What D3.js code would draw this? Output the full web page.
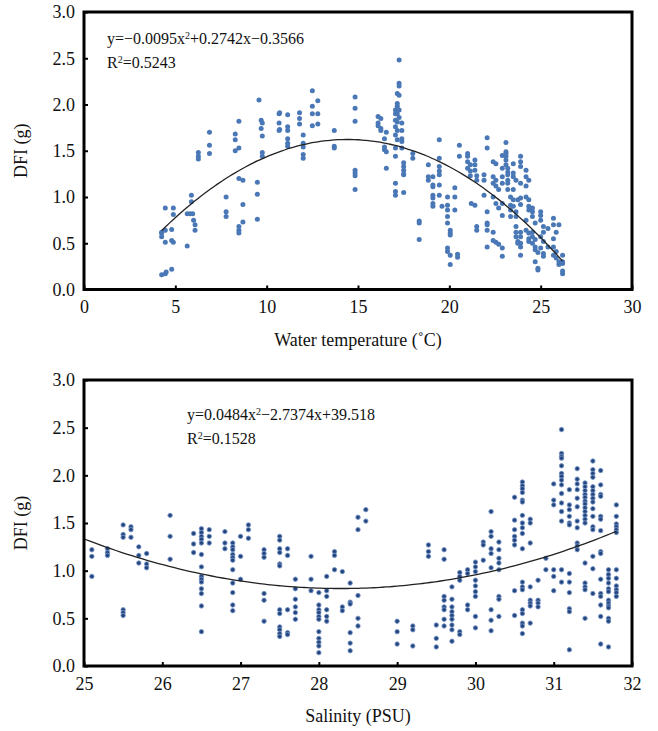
<!DOCTYPE html>
<html lang="en">
<head>
    <meta charset="UTF-8">
    <script src="https://d3js.org/d3.v7.min.js"></script>
    <title>DFI vs water temperature and salinity</title>
    <style>
        body { margin: 0; background: #fff; }
    </style>
</head>
<body>
<div id="chart"></div>
<script>
    const serif = '"Liberation Serif", "Times New Roman", "DejaVu Serif", serif';

    // Water temperature (°C) columns: [x, [DFI values]]
    const tempColumns = [
        [4.25, [0.61, 0.57, 0.62, 0.16]],
        [4.45, [0.88, 0.64, 0.51, 0.17]],
        [4.5, [0.19]],
        [4.8, [0.65, 0.53, 0.22]],
        [4.89, [0.88, 0.81, 0.51]],
        [5.65, [0.47, 0.82]],
        [5.8, [0.82]],
        [5.88, [1.02, 0.95]],
        [5.95, [0.82]],
        [6.0, [0.75]],
        [6.08, [0.70, 0.64]],
        [6.26, [1.48, 1.44, 1.41]],
        [6.87, [1.70, 1.56, 1.47]],
        [7.78, [1.0, 0.84, 0.79]],
        [8.28, [1.68, 1.62, 1.50]],
        [8.48, [1.82, 1.53, 1.20, 0.68, 0.64, 0.61]],
        [8.7, [1.18, 0.92, 0.73]],
        [9.49, [1.16, 1.03, 0.76]],
        [9.58, [2.05]],
        [9.7, [1.83, 1.74]],
        [9.76, [1.80, 1.66, 1.48, 1.44]],
        [10.68, [1.90, 1.80, 1.72]],
        [10.71, [1.91, 1.73]],
        [11.15, [1.89, 1.76, 1.72, 1.63, 1.58, 1.55]],
        [11.8, [1.91, 1.85, 1.79]],
        [12.0, [1.67, 1.58, 1.54, 1.46, 1.42]],
        [12.5, [2.15, 1.98, 1.90, 1.77]],
        [12.8, [2.04, 1.90, 1.79]],
        [13.7, [1.72, 1.55, 1.53]],
        [14.84, [2.08, 1.96, 1.82, 1.29, 1.26, 1.23, 1.08]],
        [16.1, [1.87, 1.80, 1.77]],
        [16.25, [1.85, 1.74, 1.72]],
        [16.45, [1.63, 1.54, 1.51]],
        [16.55, [1.70, 1.49, 1.31]],
        [17.05, [1.94, 1.90, 1.83, 1.76, 1.67, 1.53, 1.44, 1.15, 1.06, 1.02]],
        [17.15, [2.12, 2.01, 1.98, 1.90, 1.81, 1.72, 1.62]],
        [17.25, [2.48, 2.23, 2.20, 2.10, 1.94, 1.86]],
        [17.4, [1.80, 1.72, 1.63, 1.60, 1.53]],
        [17.5, [1.37, 1.33, 1.29, 1.25, 1.24, 1.05]],
        [18.0, [1.47, 1.42]],
        [18.35, [0.74, 0.72, 0.54]],
        [18.85, [1.35, 1.22, 1.18]],
        [19.1, [1.22, 1.13, 1.11, 1.02, 0.99, 0.93, 0.90]],
        [19.45, [1.62, 1.42, 1.33, 1.28, 1.24, 1.13, 1.02]],
        [19.6, [0.90]],
        [19.9, [1.0, 0.91, 0.86, 0.79, 0.72, 0.45, 0.41]],
        [20.05, [0.64, 0.61, 0.59, 0.37, 0.27]],
        [20.3, [1.10, 1.0, 0.86]],
        [20.45, [0.38, 0.35]],
        [20.55, [1.56, 1.44]],
        [21.0, [1.47, 1.44, 1.38, 1.31]],
        [21.15, [1.35, 1.28, 1.23]],
        [21.2, [0.93]],
        [21.4, [1.40, 1.35, 1.29, 0.91]],
        [21.5, [1.23, 1.18, 0.68, 0.64]],
        [21.9, [1.24, 1.18, 1.02]],
        [22.07, [1.64, 1.53, 0.84, 0.72, 0.70, 0.64, 0.46]],
        [22.4, [1.38, 1.22, 1.15, 1.0, 0.62, 0.53]],
        [22.55, [1.36, 1.18, 1.12, 0.93, 0.51]],
        [22.7, [1.08, 0.88, 0.49]],
        [22.9, [1.45, 1.31, 1.22, 1.15, 0.93, 0.80, 0.45, 0.36]],
        [23.1, [1.59, 1.49, 1.47, 1.44, 1.40, 1.35]],
        [23.2, [1.31, 1.27, 1.24, 1.18, 1.15, 1.08]],
        [23.35, [1.0, 0.91, 0.86, 0.79]],
        [23.5, [1.36, 1.26, 1.22, 1.08, 0.97, 0.90]],
        [23.65, [1.18, 0.84, 0.79, 0.68, 0.62, 0.57]],
        [23.75, [0.52, 0.50, 0.97]],
        [23.9, [1.44, 1.38, 1.33, 1.15, 0.99, 0.92, 0.62, 0.57, 0.50, 0.46, 0.37]],
        [24.2, [1.29, 1.22, 1.12, 1.0, 0.75, 0.64]],
        [24.35, [1.18, 0.97, 0.90, 0.86, 0.61, 0.55, 0.52]],
        [24.55, [0.88, 0.84, 0.79, 0.62, 0.57, 0.50]],
        [24.7, [0.72, 0.54, 0.46, 0.43, 0.30]],
        [24.85, [0.40, 0.23, 0.21]],
        [25.0, [0.84, 0.80, 0.75, 0.57, 0.45]],
        [25.15, [0.68, 0.62, 0.52, 0.39, 0.36]],
        [25.4, [0.66, 0.46]],
        [25.7, [0.77, 0.70, 0.55, 0.46, 0.37]],
        [25.85, [0.62, 0.41, 0.34]],
        [26.0, [0.70, 0.30, 0.27]],
        [26.2, [0.37, 0.30, 0.28, 0.20, 0.17]]
    ];

    // Salinity (PSU) columns: [x, [DFI values]]
    const salColumns = [
        [25.1, [1.22, 1.15, 0.94]],
        [25.3, [1.23, 1.19, 1.16]],
        [25.5, [1.48, 1.38, 1.35, 0.59, 0.56, 0.53]],
        [25.6, [1.46, 1.43, 1.35]],
        [25.7, [1.25, 1.16, 1.08]],
        [25.8, [1.18, 1.07, 1.03]],
        [26.1, [1.58, 1.36, 1.12]],
        [26.4, [1.39, 1.28, 1.19]],
        [26.5, [1.44, 1.40, 1.36, 1.33, 1.29, 1.17, 1.04, 0.94, 0.91, 0.88, 0.81, 0.76, 0.63, 0.36]],
        [26.6, [1.43, 1.36, 1.29]],
        [26.8, [1.41, 1.29, 1.23]],
        [26.9, [1.29, 1.25, 1.22, 1.17, 1.14, 1.11, 1.01, 0.87, 0.77, 0.64, 0.58]],
        [27.0, [1.36, 1.15, 0.91]],
        [27.1, [1.48, 1.43, 1.34]],
        [27.3, [1.22, 1.18, 1.14, 0.76, 0.69, 0.47]],
        [27.5, [1.36, 1.32, 1.23, 1.19, 1.07, 1.05, 0.59, 0.55, 0.41, 0.38, 0.34, 0.31]],
        [27.6, [1.23, 1.16, 0.59, 0.35, 0.33]],
        [27.7, [0.91, 0.81, 0.70, 0.62, 0.56, 0.49]],
        [27.9, [1.15, 0.91, 0.79]],
        [28.0, [0.77, 0.64, 0.59, 0.56, 0.52, 0.49, 0.36, 0.29, 0.25, 0.21, 0.14]],
        [28.1, [0.94, 0.79, 0.73, 0.59, 0.52, 0.47]],
        [28.2, [1.20, 1.16, 1.01]],
        [28.3, [0.99, 0.62, 0.58]],
        [28.4, [0.87, 0.67, 0.65, 0.35, 0.24, 0.16]],
        [28.5, [1.56, 1.43, 0.74, 0.50, 0.42]],
        [28.6, [1.64, 1.52]],
        [29.0, [0.47, 0.36, 0.23]],
        [29.2, [0.42, 0.38, 0.21]],
        [29.4, [1.27, 1.20, 1.15]],
        [29.5, [0.43, 0.29, 0.20]],
        [29.6, [1.22, 1.12, 0.73, 0.69, 0.62, 0.59, 0.49, 0.42]],
        [29.7, [0.83, 0.70, 0.62, 0.57, 0.53, 0.49, 0.43, 0.38, 0.26]],
        [29.8, [0.98, 0.94, 0.90, 0.36, 0.33]],
        [29.9, [1.01, 0.97, 0.64, 0.59]],
        [30.0, [1.09, 1.04, 0.99, 0.90, 0.84, 0.78, 0.73, 0.52, 0.40]],
        [30.1, [1.30, 1.27, 1.11]],
        [30.2, [1.62, 1.41, 1.36, 1.23, 1.18, 1.03, 0.59, 0.48, 0.37]],
        [30.3, [1.30, 1.22, 1.13, 1.08, 1.01, 0.73, 0.70, 0.52]],
        [30.5, [1.77, 1.53, 1.43, 1.36, 1.32, 1.27, 0.79, 0.53]],
        [30.6, [1.93, 1.89, 1.86, 1.82, 1.74, 1.72, 1.58, 1.50, 1.45, 1.39, 1.23, 0.88, 0.83, 0.80, 0.59, 0.55, 0.45, 0.42, 0.34]],
        [30.7, [1.54, 1.50, 1.29, 0.83, 0.69, 0.66, 0.63, 0.45]],
        [30.8, [0.90, 0.69, 0.66, 0.62]],
        [30.9, [1.13, 1.01]],
        [31.0, [1.91, 1.74, 1.69, 1.01, 0.94, 0.79]],
        [31.1, [2.48, 2.23, 2.20, 2.18, 2.10, 2.02, 1.99, 1.95, 1.90, 1.81, 1.71, 1.62, 1.52, 1.01, 0.88]],
        [31.2, [1.85, 1.69, 1.64, 1.57, 1.50, 1.48, 0.97, 0.88, 0.77, 0.60, 0.57, 0.17]],
        [31.3, [2.07, 1.96, 1.91, 1.85, 1.76, 1.67, 1.52, 1.45, 1.29, 1.26, 1.22]],
        [31.4, [1.92, 1.88, 1.84, 1.80, 1.77, 1.73, 1.70, 1.66, 1.62, 1.58, 1.54, 1.50, 1.08, 0.87, 0.83, 0.80, 0.50]],
        [31.5, [2.15, 2.06, 2.02, 1.98, 1.88, 1.84, 1.80, 1.76, 1.72, 1.65, 1.57, 1.46, 1.43, 1.15, 1.02, 0.76]],
        [31.6, [2.05, 1.90, 1.80, 1.78, 1.57, 1.54, 1.42, 1.20, 1.18, 0.91, 0.76, 0.73, 0.64, 0.52, 0.23]],
        [31.7, [1.01, 0.96, 0.92, 0.87, 0.81, 0.78, 0.69, 0.66, 0.63, 0.61, 0.50, 0.47, 0.20]],
        [31.8, [1.69, 1.57, 1.49, 1.46, 1.43, 1.40, 1.01, 0.92, 0.84, 0.80, 0.77, 0.73]]
    ];

    // Quadratic fit coefficients [a, b, c] and their x span, as printed on the chart
    const tempFit = [-0.0095, 0.2742, -0.3566];
    const tempFitRange = [4.25, 26.2];
    const salFit = [0.0484, -2.7374, 39.518];
    const salFitRange = [25, 31.8];

    const tempTicks = [0, 5, 10, 15, 20, 25, 30];
    const salTicks = [25, 26, 27, 28, 29, 30, 31, 32];
    const dfiTicks = [0, 0.5, 1.0, 1.5, 2.0, 2.5, 3.0];

    const width = 658, height = 731;
    const svg = d3.select("#chart").append("svg")
        .attr("width", width)
        .attr("height", height)
        .attr("font-family", serif);

    function drawPanel(opts) {
        const x = d3.scaleLinear().domain(opts.xDomain).range([opts.left, opts.right]);
        const y = d3.scaleLinear().domain([0, 3]).range([opts.bottom, opts.top]);
        const g = svg.append("g");

        // points
        const pts = opts.columns.flatMap(([xv, ys]) => ys.map(v => [xv, v]));
        g.selectAll("circle")
            .data(pts)
            .enter()
            .append("circle")
            .attr("cx", d => x(d[0]))
            .attr("cy", d => y(d[1]))
            .attr("r", opts.r)
            .attr("fill", opts.fill)
            .attr("stroke", opts.stroke || "none")
            .attr("stroke-width", opts.stroke ? 0.9 : 0);

        // fitted curve
        const [a, b, c] = opts.fit;
        const xs = d3.range(opts.fitRange[0], opts.fitRange[1] + 0.001, (opts.fitRange[1] - opts.fitRange[0]) / 100);
        const line = d3.line().x(d => x(d)).y(d => y(a * d * d + b * d + c)).curve(d3.curveBasis);
        g.append("path")
            .attr("d", line(xs))
            .attr("fill", "none")
            .attr("stroke", "#222")
            .attr("stroke-width", 1.3);

        // axes with inward ticks
        const xAxis = g.append("g")
            .attr("transform", `translate(0,${opts.bottom})`)
            .call(d3.axisBottom(x).tickValues(opts.xTicks).tickSize(-4).tickPadding(11).tickFormat(d3.format("d")));
        const yAxis = g.append("g")
            .attr("transform", `translate(${opts.left},0)`)
            .call(d3.axisLeft(y).tickValues(dfiTicks).tickSize(-4).tickPadding(9).tickFormat(d3.format(".1f")));
        [xAxis, yAxis].forEach(ax => {
            ax.attr("font-family", serif);
            ax.select(".domain").remove();
            ax.selectAll(".tick line").attr("stroke", "#000").attr("stroke-width", 2);
            ax.selectAll(".tick text")
                .style("font-family", serif)
                .style("font-size", "18px")
                .attr("fill", "#111");
        });

        // frame
        g.append("rect")
            .attr("x", opts.left)
            .attr("y", opts.top)
            .attr("width", opts.right - opts.left)
            .attr("height", opts.bottom - opts.top)
            .attr("fill", "none")
            .attr("stroke", "#000")
            .attr("stroke-width", 3);

        // titles
        g.append("text")
            .attr("x", (opts.left + opts.right) / 2)
            .attr("y", opts.bottom + 56)
            .attr("text-anchor", "middle")
            .style("font-family", serif)
            .style("font-size", "18px")
            .attr("fill", "#111")
            .text(opts.xTitle);
        g.append("text")
            .attr("transform", `translate(27,${(opts.top + opts.bottom) / 2}) rotate(-90)`)
            .attr("text-anchor", "middle")
            .style("font-family", serif)
            .style("font-size", "18px")
            .attr("fill", "#111")
            .text("DFI (g)");

        // equation
        const eq = g.append("text")
            .attr("x", opts.eqX)
            .attr("y", opts.eqY)
            .style("font-family", serif)
            .style("font-size", "16px")
            .attr("fill", "#111");
        opts.eqParts.forEach(p => {
            eq.append("tspan")
                .attr("baseline-shift", p.sup ? "super" : null)
                .style("font-size", p.sup ? "10px" : null)
                .text(p.t);
        });
        const r2 = g.append("text")
            .attr("x", opts.eqX)
            .attr("y", opts.eqY + 24)
            .style("font-family", serif)
            .style("font-size", "16px")
            .attr("fill", "#111");
        r2.append("tspan").text("R");
        r2.append("tspan").attr("baseline-shift", "super").style("font-size", "10px").text("2");
        r2.append("tspan").text(opts.r2);
    }

    drawPanel({
        columns: tempColumns,
        fit: tempFit,
        fitRange: tempFitRange,
        xDomain: [0, 30],
        xTicks: tempTicks,
        left: 84, right: 632, top: 12, bottom: 289.5,
        r: 2.5, fill: "#4a78b6",
        xTitle: "Water temperature (˚C)",
        eqX: 107, eqY: 44,
        eqParts: [{t: "y=−0.0095x"}, {t: "2", sup: true}, {t: "+0.2742x−0.3566"}],
        r2: "=0.5243"
    });

    drawPanel({
        columns: salColumns,
        fit: salFit,
        fitRange: salFitRange,
        xDomain: [25, 32],
        xTicks: salTicks,
        left: 84, right: 632, top: 380, bottom: 666,
        r: 2.2, fill: "#23457d", stroke: "#7895c6",
        xTitle: "Salinity (PSU)",
        eqX: 187, eqY: 420,
        eqParts: [{t: "y=0.0484x"}, {t: "2", sup: true}, {t: "−2.7374x+39.518"}],
        r2: "=0.1528"
    });
</script>
</body>
</html>
